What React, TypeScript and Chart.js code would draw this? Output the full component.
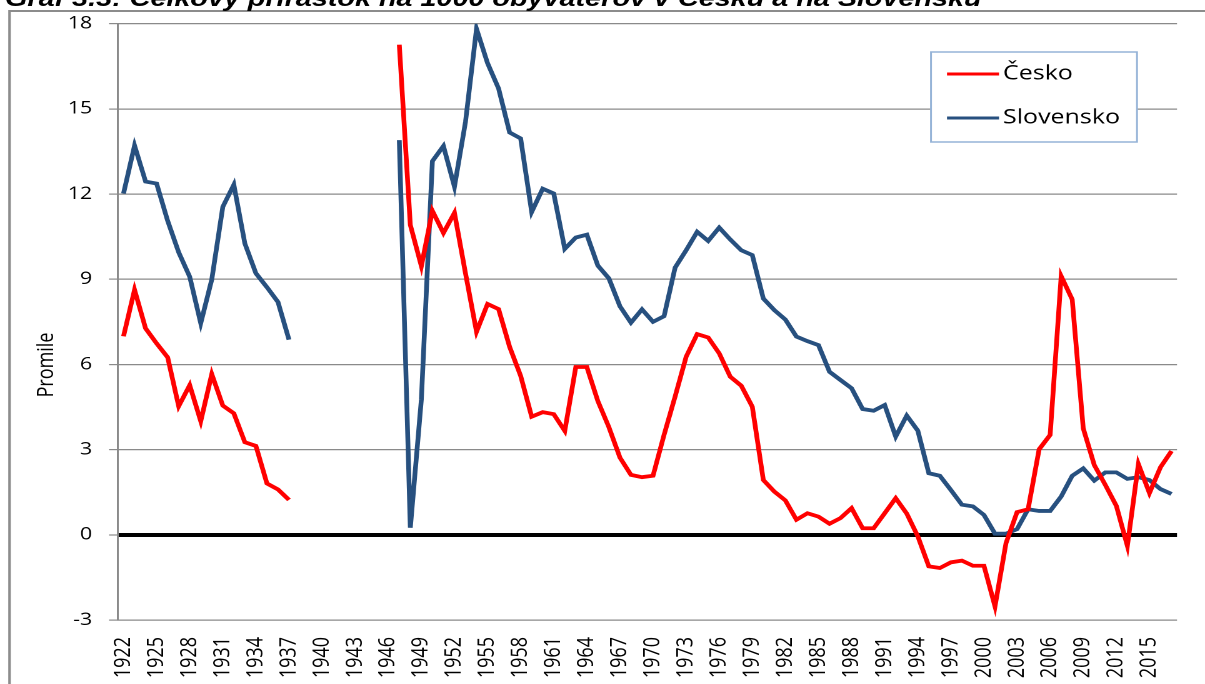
import { useEffect, useRef } from "react";
import { Chart, registerables } from "chart.js";

Chart.register(...registerables);

const YEARS = [
  "1922", "1923", "1924", "1925", "1926", "1927", "1928", "1929", "1930", "1931",
  "1932", "1933", "1934", "1935", "1936", "1937", "1938", "1939", "1940", "1941",
  "1942", "1943", "1944", "1945", "1946", "1947", "1948", "1949", "1950", "1951",
  "1952", "1953", "1954", "1955", "1956", "1957", "1958", "1959", "1960", "1961",
  "1962", "1963", "1964", "1965", "1966", "1967", "1968", "1969", "1970", "1971",
  "1972", "1973", "1974", "1975", "1976", "1977", "1978", "1979", "1980", "1981",
  "1982", "1983", "1984", "1985", "1986", "1987", "1988", "1989", "1990", "1991",
  "1992", "1993", "1994", "1995", "1996", "1997", "1998", "1999", "2000", "2001",
  "2002", "2003", "2004", "2005", "2006", "2007", "2008", "2009", "2010", "2011",
  "2012", "2013", "2014", "2015", "2016", "2017",
];

// Česko (promile), 1922–2017, gap 1938–1946
const CESKO: (number | null)[] = [
  6.99, 8.63, 7.27, 6.74, 6.25, 4.53, 5.27, 4.0, 5.66, 4.55, 4.28, 3.26, 3.13, 1.81, 1.6, 1.23,
  null, null, null, null, null, null, null, null, null,
  17.26, 10.91, 9.46, 11.41, 10.63, 11.34, 9.21, 7.15, 8.13, 7.95, 6.62, 5.6, 4.16, 4.32, 4.25, 3.66, 5.91, 5.91, 4.71, 3.79,
  2.72, 2.11, 2.03, 2.08, 3.52, 4.87, 6.27, 7.07, 6.95, 6.39, 5.57, 5.25, 4.51, 1.93, 1.52, 1.21, 0.53, 0.76, 0.64, 0.39,
  0.59, 0.94, 0.23, 0.23, 0.76, 1.29,
  0.75, -0.05, -1.11, -1.17, -0.97, -0.91, -1.09, -1.09, -2.52, -0.29, 0.8, 0.9, 3.01, 3.52, 9.11, 8.29, 3.75, 2.46, 1.76, 1.02,
  -0.39, 2.49, 1.47, 2.38, 2.95,
];

// Slovensko (promile), 1922–2017, gap 1938–1946
const SLOVENSKO: (number | null)[] = [
  12.02, 13.71, 12.44, 12.37, 11.06, 9.95, 9.09, 7.45, 8.99, 11.55, 12.33, 10.26, 9.21, 8.72, 8.2, 6.87,
  null, null, null, null, null, null, null, null, null,
  13.9, 0.25, 4.77, 13.16, 13.69, 12.26, 14.54, 17.82, 16.61, 15.72, 14.17, 13.96, 11.37, 12.19, 12.02, 10.07, 10.47, 10.57, 9.48, 9.03,
  8.05, 7.47, 7.94, 7.5, 7.7, 9.41, 10.02, 10.67, 10.35, 10.82, 10.4, 10.02, 9.85, 8.32, 7.91, 7.58, 6.98, 6.82, 6.68, 5.74,
  5.45, 5.16, 4.43, 4.37, 4.57, 3.46,
  4.2, 3.67, 2.17, 2.08, 1.58, 1.06, 1.0, 0.7, 0.04, 0.04, 0.2, 0.9, 0.84, 0.84, 1.35, 2.08, 2.34, 1.91, 2.2, 2.2,
  1.97, 2.03, 1.93, 1.61, 1.44,
];

const SERIES_NAMES = ["Česko", "Slovensko"];
const SERIES_COLORS = ["#ff0000", "#27507f"];
const Y_MIN = -3;
const Y_MAX = 18;
const Y_STEP = 3;
const LABEL_EVERY = 3;
const TITLE = "Graf 3.3: Celkový prírastok na 1000 obyvateľov v Česku a na Slovensku";
const Y_TITLE = "Promile";

const STRETCH = 1.25;
const W = 964;
const H = 684;
const FONT = '"Open Sans", "Noto Sans", sans-serif';

const decorPlugin = {
  id: "decor",
  afterDraw(chart: any) {
    const ctx = chart.ctx as CanvasRenderingContext2D;
    ctx.save();
    // outer frame (left and top edges)
    ctx.strokeStyle = "#8c8c8c";
    ctx.lineWidth = 2;
    ctx.beginPath();
    ctx.moveTo(7.6, H);
    ctx.lineTo(7.6, 11);
    ctx.lineTo(W, 11);
    ctx.stroke();
    // clipped title at the very top
    ctx.fillStyle = "#000";
    ctx.font = 'italic bold 23px "Liberation Sans", Arial, sans-serif';
    ctx.textAlign = "left";
    ctx.textBaseline = "alphabetic";
    ctx.fillText(TITLE, 4, 6);
    // y-axis title
    ctx.save();
    ctx.translate(37.6, 365);
    ctx.rotate(-Math.PI / 2);
    ctx.font = `18px ${FONT}`;
    ctx.textAlign = "center";
    ctx.textBaseline = "middle";
    ctx.fillText(Y_TITLE, 0, 0);
    ctx.restore();
    // legend box
    const bx = 744.8, by = 52, bw = 164.8, bh = 90;
    ctx.fillStyle = "#ffffff";
    ctx.fillRect(bx, by, bw, bh);
    ctx.strokeStyle = "#95b3d7";
    ctx.lineWidth = 1.5;
    ctx.strokeRect(bx, by, bw, bh);
    const rows = [74, 118];
    chart.data.datasets.forEach((ds: any, i: number) => {
      const y = rows[i];
      ctx.strokeStyle = ds.borderColor;
      ctx.lineWidth = 3;
      ctx.beginPath();
      ctx.moveTo(757.6, y);
      ctx.lineTo(799.2, y);
      ctx.stroke();
      ctx.fillStyle = "#000";
      ctx.font = `20px ${FONT}`;
      ctx.textAlign = "left";
      ctx.textBaseline = "middle";
      ctx.fillText(ds.label, 802.4, y);
    });
    ctx.restore();
  },
};

export default function App() {
  const ref = useRef<HTMLCanvasElement>(null);

  useEffect(() => {
    if (!ref.current) return;
    const chart = new Chart(ref.current, {
      type: "line",
      data: {
        labels: YEARS,
        datasets: [
          {
            label: SERIES_NAMES[0],
            data: CESKO,
            borderColor: SERIES_COLORS[0],
            backgroundColor: SERIES_COLORS[0],
            borderWidth: 3.8,
            pointRadius: 0,
            tension: 0,
            spanGaps: false,
          },
          {
            label: SERIES_NAMES[1],
            data: SLOVENSKO,
            borderColor: SERIES_COLORS[1],
            backgroundColor: SERIES_COLORS[1],
            borderWidth: 3.8,
            pointRadius: 0,
            tension: 0,
            spanGaps: false,
          },
        ],
      },
      options: {
        responsive: false,
        devicePixelRatio: 2,
        animation: false,
        events: [],
        layout: { padding: { top: 22.7, right: 22.4, left: 0, bottom: 0 } },
        plugins: {
          legend: { display: false },
          title: { display: false },
          tooltip: { enabled: false },
        },
        scales: {
          x: {
            type: "category",
            offset: true,
            grid: { display: false },
            border: { display: false },
            afterFit: (scale: any) => {
              scale.height = 64;
            },
            ticks: {
              autoSkip: false,
              minRotation: 90,
              maxRotation: 90,
              padding: 9,
              color: "#000",
              font: { family: FONT, size: 18 },
              callback: function (this: any, value: any, index: number) {
                return index % LABEL_EVERY === 0 ? this.getLabelForValue(value) : null;
              },
            },
          },
          y: {
            min: Y_MIN,
            max: Y_MAX,
            afterFit: (scale: any) => {
              scale.width = 94.4;
            },
            ticks: {
              stepSize: Y_STEP,
              padding: 13.5,
              color: "#000",
              font: { family: FONT, size: 17 },
            },
            border: { display: true, color: "#8a8a8a", width: 1.5 },
            grid: {
              color: (c: any) => (c.tick && c.tick.value === 0 ? "#000000" : "#8a8a8a"),
              lineWidth: (c: any) => (c.tick && c.tick.value === 0 ? 4 : 1.2),
              tickColor: "#8a8a8a",
              tickWidth: 1.2,
              tickLength: 7.2,
            },
          },
        },
      },
      plugins: [decorPlugin],
    } as any);
    return () => chart.destroy();
  }, []);

  return (
    <div
      style={{
        position: "fixed",
        left: 0,
        top: 0,
        width: 1205,
        height: 684,
        overflow: "hidden",
        background: "#fff",
      }}
    >
      <div
        style={{
          width: W,
          height: H,
          transform: `scaleX(${STRETCH})`,
          transformOrigin: "0 0",
        }}
      >
        <canvas ref={ref} width={W} height={H} />
      </div>
    </div>
  );
}
